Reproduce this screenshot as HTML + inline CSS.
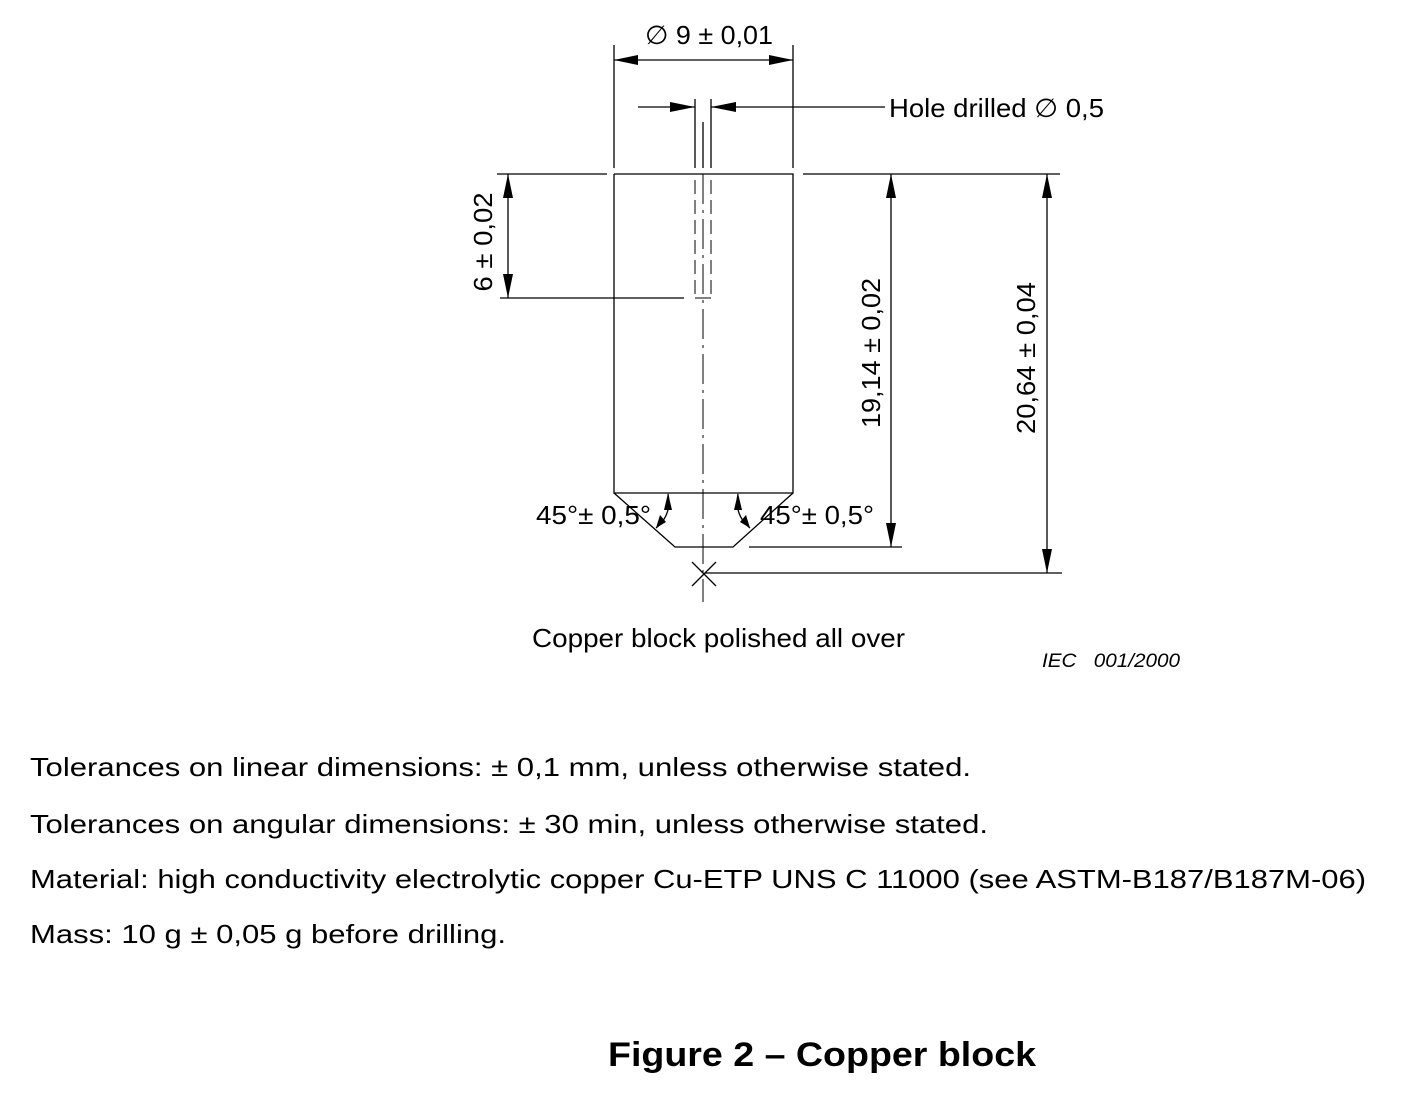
<!DOCTYPE html>
<html><head><meta charset="utf-8"><style>body{margin:0;background:#fff}svg{display:block}</style></head><body>
<svg width="1418" height="1118" xmlns="http://www.w3.org/2000/svg" font-family="Liberation Sans, sans-serif">
<g stroke="#000" stroke-width="1.3" fill="none">
<polyline points="614,174 614,493 793,493 793,174 614,174"/>
<polyline points="614,493 675,547 733,547 793,493"/>
<line x1="695" y1="99" x2="695" y2="168"/><line x1="711" y1="99" x2="711" y2="168"/>
<line x1="703" y1="122" x2="703" y2="168"/>
<g stroke-dasharray="14,6" stroke-width="1"><line x1="695" y1="180" x2="695" y2="298"/><line x1="711" y1="180" x2="711" y2="298"/></g>
<line x1="695" y1="298" x2="711" y2="298" stroke-width="1"/>
<line x1="703" y1="174" x2="703" y2="602" stroke-dasharray="30,6,3,6" stroke-width="1"/>
<line x1="614" y1="45" x2="614" y2="168"/><line x1="793" y1="45" x2="793" y2="168"/>
<line x1="614" y1="60" x2="793" y2="60"/>
<line x1="638" y1="107" x2="695" y2="107"/><line x1="711" y1="107" x2="885" y2="107"/>
<line x1="497" y1="174" x2="607" y2="174"/><line x1="500" y1="298" x2="684" y2="298"/>
<line x1="508" y1="174" x2="508" y2="298"/>
<line x1="803" y1="174" x2="1060" y2="174"/><line x1="749" y1="547" x2="902" y2="547"/>
<line x1="891" y1="174" x2="891" y2="547"/>
<line x1="1047" y1="174" x2="1047" y2="573"/><line x1="705" y1="573" x2="1062" y2="573"/>
<line x1="692" y1="562" x2="716" y2="586"/><line x1="716" y1="562" x2="692" y2="586"/>
<path d="M668,494 Q672,515 656,528"/><path d="M738,494 Q734,515 750,528"/>
</g>
<g fill="#000">
<polygon points="614,60 638,55 638,65"/><polygon points="793,60 769,55 769,65"/>
<polygon points="695,107 670,102 670,112"/><polygon points="711,107 736,102 736,112"/>
<polygon points="508,174 503,198 513,198"/><polygon points="508,298 503,274 513,274"/>
<polygon points="891,174 886,198 896,198"/><polygon points="891,547 886,523 896,523"/>
<polygon points="1047,174 1042,198 1052,198"/><polygon points="1047,573 1042,549 1052,549"/>
<polygon points="668,493 664,510 672,510"/><polygon points="738,493 734,510 742,510"/>
<polygon points="656,528 660,515 666,522"/><polygon points="750,528 746,515 740,522"/>
</g>
<g font-size="26" fill="#000">
<text x="645" y="44" textLength="128" lengthAdjust="spacingAndGlyphs">∅ 9 ± 0,01</text>
<text x="889" y="117" textLength="215" lengthAdjust="spacingAndGlyphs">Hole drilled ∅ 0,5</text>
<text x="536" y="524" textLength="115" lengthAdjust="spacingAndGlyphs">45°± 0,5°</text>
<text x="760" y="524" textLength="114" lengthAdjust="spacingAndGlyphs">45°± 0,5°</text>
<text transform="translate(492,242) rotate(-90)" text-anchor="middle" textLength="99" lengthAdjust="spacingAndGlyphs">6 ± 0,02</text>
<text transform="translate(880,353) rotate(-90)" text-anchor="middle" textLength="150" lengthAdjust="spacingAndGlyphs">19,14 ± 0,02</text>
<text transform="translate(1035,358) rotate(-90)" text-anchor="middle" textLength="152" lengthAdjust="spacingAndGlyphs">20,64 ± 0,04</text>
<text x="532" y="647" textLength="373" lengthAdjust="spacingAndGlyphs">Copper block polished all over</text>
</g>
<g font-size="26" fill="#000">
<text x="30" y="776" textLength="941" lengthAdjust="spacingAndGlyphs">Tolerances on linear dimensions: ± 0,1 mm, unless otherwise stated.</text>
<text x="30" y="833" textLength="958" lengthAdjust="spacingAndGlyphs">Tolerances on angular dimensions: ± 30 min, unless otherwise stated.</text>
<text x="30" y="888" textLength="1336" lengthAdjust="spacingAndGlyphs">Material: high conductivity electrolytic copper Cu-ETP UNS C 11000 (see ASTM-B187/B187M-06)</text>
<text x="30" y="943" textLength="476" lengthAdjust="spacingAndGlyphs">Mass: 10 g ± 0,05 g before drilling.</text>
</g>
<text x="1042" y="667" font-size="19" font-style="italic" textLength="138" lengthAdjust="spacingAndGlyphs" xml:space="preserve">IEC   001/2000</text>
<text x="608" y="1066" font-size="34" font-weight="bold" textLength="428" lengthAdjust="spacingAndGlyphs">Figure 2 – Copper block</text>
</svg>
</body></html>
